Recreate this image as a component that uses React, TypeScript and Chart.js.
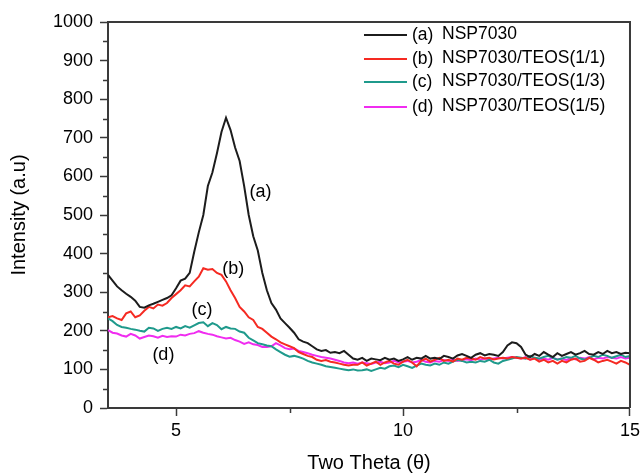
import React, { useEffect, useRef } from "react";
import { Chart, registerables } from "chart.js";

Chart.register(...registerables);

// 2θ sampling grid: 3.5 → 15.0 in 0.1 steps (one entry per intensity value below)
const thetaStart = 3.5;
const thetaStep = 0.1;

const seriesLabels = ["NSP7030", "NSP7030/TEOS(1/1)", "NSP7030/TEOS(1/3)", "NSP7030/TEOS(1/5)"];
const seriesTags = ["(a)", "(b)", "(c)", "(d)"];
const seriesColors = ["#1c1c1c", "#f52a22", "#1f9a8c", "#f02cf0"];

const intensityA = [
  345, 330, 315, 305, 296, 288, 278, 262, 260, 266,
  270, 275, 280, 285, 292, 310, 330, 335, 350, 405,
  455, 500, 575, 610, 660, 715, 752, 720, 675, 640,
  575, 500, 445, 408, 350, 305, 272, 255, 232, 220,
  208, 195, 178, 172, 168, 160, 152, 148, 150, 143,
  145, 142, 148, 138, 128, 125, 130, 122, 128, 126,
  124, 130, 125, 128, 122, 126, 132, 125, 130, 128,
  135, 128, 130, 127, 135, 132, 128, 136, 140, 135,
  130, 138, 142, 136, 140, 138, 135, 145, 162, 170,
  168, 158, 138, 132, 140, 135, 145, 138, 132, 142,
  135, 140, 145, 138, 142, 148, 140, 138, 145, 140,
  148, 142, 145, 140, 143, 142,
];

const intensityB = [
  235, 238, 232, 228, 245, 250, 235, 240, 252, 262,
  258, 268, 265, 272, 285, 295, 305, 318, 315, 328,
  340, 362, 358, 360, 350, 345, 328, 305, 285, 262,
  250, 235, 228, 210, 205, 195, 185, 178, 170, 165,
  160, 155, 145, 140, 135, 132, 125, 122, 124, 120,
  118, 115, 112, 110, 112, 112, 118, 110, 115, 120,
  112, 118, 122, 115, 112, 120, 125, 118, 108, 122,
  128, 120, 125, 130, 122, 125, 120, 128, 125, 130,
  128, 125, 132, 128, 130, 126, 128, 130, 128, 132,
  130, 128, 130, 125, 128, 120, 125, 118, 122, 115,
  122, 118, 125, 128, 120, 122, 130, 125, 118, 122,
  125, 120, 115, 122, 118, 112,
];

const intensityC = [
  232, 225, 215, 210, 208, 205, 203, 200, 198, 208,
  206, 200, 205, 208, 205, 210, 206, 212, 208, 214,
  220, 222, 212, 220, 215, 204, 210, 206, 205, 198,
  195, 182, 175, 168, 165, 162, 160, 152, 145, 138,
  133, 135, 132, 128, 122, 118, 115, 112, 108, 106,
  104, 102, 100, 98, 100, 97, 98, 100, 96, 100,
  104, 102, 108, 110, 106, 112, 108, 104, 110, 115,
  112, 110, 115, 112, 118, 115, 120, 125, 122, 118,
  120, 118, 122, 120, 125, 118, 115, 122, 125, 128,
  132, 130, 128, 135, 130, 128, 132, 135, 130, 125,
  128, 132, 130, 135, 128, 125, 130, 135, 132, 138,
  135, 130, 134, 138, 132, 135,
];

const intensityD = [
  202, 195, 193, 188, 185, 192, 188, 180, 184, 188,
  186, 182, 187, 184, 186, 185, 190, 188, 192, 194,
  199, 195, 192, 190, 186, 183, 180, 182, 176, 172,
  166, 170, 165, 163, 158, 158, 160, 168, 162, 155,
  152, 154, 148, 145, 142, 138, 135, 132, 130, 128,
  125, 122, 118, 116, 118, 115, 118, 116, 114, 118,
  120, 116, 118, 122, 118, 120, 122, 118, 120, 124,
  120, 118, 122, 120, 124, 122, 125, 122, 124, 126,
  124, 128, 125, 128, 126, 128, 130, 128, 130, 132,
  130, 128, 132, 125, 130, 126, 128, 125, 130, 126,
  128, 124, 130, 126, 130, 128, 132, 126, 130, 128,
  132, 130, 128, 132, 128, 130,
];

const seriesValues = [intensityA, intensityB, intensityC, intensityD];

// Axis ticks
const xMajorTicks = [5, 10, 15];
const xMinorTicks = [7.5, 12.5];
const yMajorTicks = [0, 100, 200, 300, 400, 500, 600, 700, 800, 900, 1000];
const yMinorTicks = [50, 150, 250, 350, 450, 550, 650, 750, 850, 950];

// In-plot curve tags: [2θ, intensity]
const tagPositions: [number, number][] = [
  [6.86, 560],
  [6.26, 361],
  [5.57, 254],
  [4.72, 136],
];

const axisColor = "#3a3a3a";
const FONT = "'Liberation Sans', Arial, Helvetica, sans-serif";

const decorPlugin = {
  id: "decor",
  afterDraw(chart: any) {
    const { ctx, chartArea, scales } = chart;
    const { left, top, right, bottom } = chartArea;
    const x = scales.x;
    const y = scales.y;
    ctx.save();
    // frame top & right
    ctx.strokeStyle = axisColor;
    ctx.lineWidth = 2;
    ctx.beginPath();
    ctx.moveTo(left, top);
    ctx.lineTo(right, top);
    ctx.lineTo(right, bottom);
    ctx.stroke();
    // minor ticks
    ctx.lineWidth = 1.5;
    ctx.beginPath();
    for (const v of yMinorTicks) {
      const py = Math.round(y.getPixelForValue(v)) + 0.5;
      ctx.moveTo(left - 5, py);
      ctx.lineTo(left, py);
    }
    for (const v of xMinorTicks) {
      const px = Math.round(x.getPixelForValue(v)) + 0.5;
      ctx.moveTo(px, bottom);
      ctx.lineTo(px, bottom + 5);
    }
    ctx.stroke();

    // curve tags
    ctx.fillStyle = "#000";
    ctx.font = `18px ${FONT}`;
    ctx.textAlign = "center";
    ctx.textBaseline = "middle";
    tagPositions.forEach(([tx, ty], i) => {
      ctx.fillText(seriesTags[i], x.getPixelForValue(tx), y.getPixelForValue(ty));
    });

    // legend
    const rowYs = [13, 37, 60, 85];
    const lineX0 = right - 266;
    const lineX1 = right - 223;
    ctx.font = `17.5px ${FONT}`;
    ctx.textAlign = "left";
    seriesLabels.forEach((label, i) => {
      const ry = top + rowYs[i];
      ctx.strokeStyle = seriesColors[i];
      ctx.lineWidth = 2;
      ctx.beginPath();
      ctx.moveTo(lineX0, ry);
      ctx.lineTo(lineX1, ry);
      ctx.stroke();
      ctx.fillStyle = "#000";
      ctx.fillText(seriesTags[i], lineX1 + 5, ry + 0.5);
      ctx.fillText(label, lineX1 + 35, ry - 0.5);
    });
    ctx.restore();
  },
};

export default function App() {
  const canvasRef = useRef<HTMLCanvasElement | null>(null);

  useEffect(() => {
    if (!canvasRef.current) return;
    const datasets = seriesValues.map((vals, i) => ({
      label: seriesLabels[i],
      data: vals.map((v, k) => ({ x: +(thetaStart + k * thetaStep).toFixed(2), y: v })),
      borderColor: seriesColors[i],
      borderWidth: 2,
      pointRadius: 0,
      tension: 0,
      fill: false,
    }));

    const chart = new Chart(canvasRef.current, {
      type: "line",
      data: { datasets },
      options: {
        animation: false,
        responsive: false,
        devicePixelRatio: 1,
        layout: { padding: { top: 22, right: 12, left: 0, bottom: 0 } },
        plugins: {
          legend: { display: false },
          tooltip: { enabled: false },
        },
        scales: {
          x: {
            type: "linear",
            min: 3.5,
            max: 15,
            afterBuildTicks: (scale: any) => {
              scale.ticks = xMajorTicks.map((v) => ({ value: v }));
            },
            afterFit: (scale: any) => {
              scale.height = 65;
            },
            grid: {
              drawOnChartArea: false,
              drawTicks: true,
              tickLength: 8,
              tickWidth: 1.5,
              tickColor: axisColor,
            },
            border: { display: true, color: axisColor, width: 2 },
            ticks: {
              color: "#000",
              padding: 4,
              maxRotation: 0,
              font: { family: FONT, size: 18 },
              callback: (v: any) => String(v),
            },
            title: {
              display: true,
              text: "Two Theta (θ)",
              color: "#000",
              font: { family: FONT, size: 20, lineHeight: 1 },
              padding: { top: 0, bottom: 0 },
            },
          },
          y: {
            type: "linear",
            min: 0,
            max: 1000,
            afterBuildTicks: (scale: any) => {
              scale.ticks = yMajorTicks.map((v) => ({ value: v }));
            },
            afterFit: (scale: any) => {
              scale.width = 108;
            },
            grid: {
              drawOnChartArea: false,
              drawTicks: true,
              tickLength: 8,
              tickWidth: 1.5,
              tickColor: axisColor,
            },
            border: { display: true, color: axisColor, width: 2 },
            ticks: {
              color: "#000",
              padding: 7,
              font: { family: FONT, size: 18 },
              callback: (v: any) => String(v),
            },
            title: {
              display: true,
              text: "Intensity (a.u)",
              color: "#000",
              font: { family: FONT, size: 20, lineHeight: 1 },
              padding: { top: 9, bottom: 0 },
            },
          },
        },
      },
      plugins: [decorPlugin],
    });

    return () => chart.destroy();
  }, []);

  return (
    <div style={{ position: "absolute", left: 0, top: 0, width: 644, height: 473, background: "#fff" }}>
      <canvas ref={canvasRef} width={644} height={473} />
    </div>
  );
}
